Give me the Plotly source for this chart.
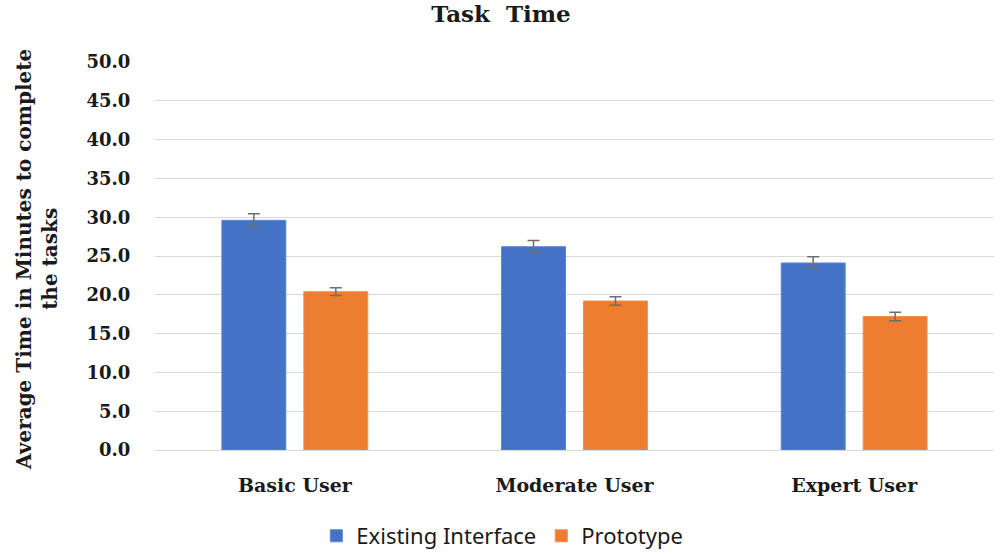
import plotly.graph_objects as go

categories = ["Basic User", "Moderate User", "Expert User"]
existing = [29.6, 26.2, 24.1]
existing_err = [0.85, 0.8, 0.8]
prototype = [20.4, 19.2, 17.2]
prototype_err = [0.5, 0.55, 0.55]
y_ticks = [0, 5, 10, 15, 20, 25, 30, 35, 40, 45, 50]

serif = "DejaVu Serif"
err_color = "#6e6e6e"
txt = "#1a1a1a"

fig = go.Figure()
fig.add_trace(go.Bar(
    name="Existing Interface", x=categories, y=existing,
    marker=dict(color="#4472C4", line=dict(color="#5b86d4", width=1)),
    error_y=dict(type="data", array=existing_err, visible=True,
                 color=err_color, thickness=1.5, width=6),
))
fig.add_trace(go.Bar(
    name="Prototype", x=categories, y=prototype,
    marker=dict(color="#ED7D31", line=dict(color="#f09050", width=1)),
    error_y=dict(type="data", array=prototype_err, visible=True,
                 color=err_color, thickness=1.5, width=6),
))

fig.update_layout(
    width=1000, height=554,
    margin=dict(l=155, r=6, t=62, b=104),
    paper_bgcolor="white", plot_bgcolor="white",
    barmode="group", bargap=0.414, bargroupgap=0.22,
    title=dict(text="Task  Time", x=0.501, xanchor="center",
               y=1, yanchor="top", pad=dict(t=6),
               font=dict(family=serif, size=23, color=txt, weight="bold")),
    legend=dict(orientation="h", x=0.414, xanchor="center",
                yref="container", y=0.0325, yanchor="middle",
                font=dict(family="Noto Sans", size=22, color=txt),
                traceorder="normal"),
    showlegend=True,
)
fig.update_yaxes(
    range=[0, 50], tickvals=y_ticks, tickformat=".1f",
    showgrid=True, gridcolor="#d9d9d9", gridwidth=1,
    zeroline=True, zerolinecolor="#d9d9d9", zerolinewidth=1,
    showline=False,
    tickfont=dict(family=serif, size=18, color=txt, weight="bold"),
    ticks="outside", ticklen=20, tickcolor="rgba(0,0,0,0)",
)
fig.update_xaxes(
    showline=False, showgrid=False,
    tickfont=dict(family=serif, size=19, color=txt, weight="bold"),
    ticks="outside", ticklen=18, tickcolor="rgba(0,0,0,0)",
)

fig.add_annotation(
    text="<b>Average Time in Minutes to complete<br>the tasks</b>",
    xref="paper", yref="paper", x=-0.1406, y=0.49,
    xanchor="center", yanchor="middle", textangle=-90, showarrow=False,
    font=dict(family=serif, size=20, color=txt),
)

fig.write_html("out.html", config={"displayModeBar": False},
               post_script="document.body.style.margin='0';")
